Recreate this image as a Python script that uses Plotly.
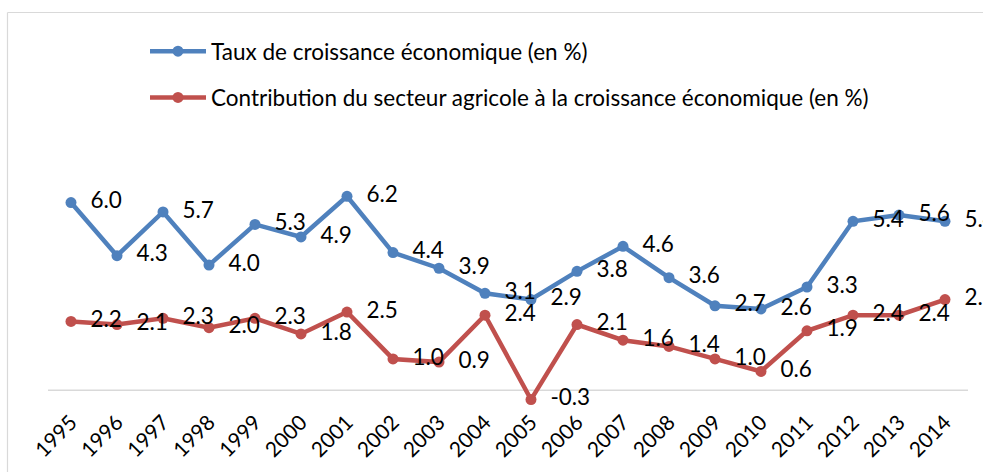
import plotly.graph_objects as go

years = [str(y) for y in range(1995, 2015)]
croissance = [6.0, 4.3, 5.7, 4.0, 5.3, 4.9, 6.2, 4.4, 3.9, 3.1, 2.9, 3.8, 4.6, 3.6, 2.7, 2.6, 3.3, 5.4, 5.6, 5.4]
agricole = [2.2, 2.1, 2.3, 2.0, 2.3, 1.8, 2.5, 1.0, 0.9, 2.4, -0.3, 2.1, 1.6, 1.4, 1.0, 0.6, 1.9, 2.4, 2.4, 2.9]
names = ["Taux de croissance économique (en %)",
         "Contribution du secteur agricole à la croissance économique (en %)"]
colors = ["#4F81BD", "#C0504D"]

FONT = "Lato, Carlito, Calibri, sans-serif"
L, T, W, H = 48, 140, 920, 269

fig = go.Figure()
for i, (vals, name, col) in enumerate(zip([croissance, agricole], names, colors)):
    fig.add_trace(go.Scatter(
        x=years, y=vals, name=name, mode="lines+markers+text",
        line=dict(color=col, width=4.5),
        marker=dict(color=col, size=11),
        text=["\u00a0\u00a0" + f"{v:.1f}" for v in vals],
        textposition="middle right",
        textfont=dict(family=FONT, size=22.5, color="#000000"),
        cliponaxis=False,
        legendgroup=f"g{i}",
    ))

# horizontal category axis line at y=0
fig.add_shape(type="line", xref="x", yref="y", x0=-0.5, x1=19.5, y0=0, y1=0,
              line=dict(color="#D9D9D9", width=1.5), layer="below")
# chart border (top and left edges)
bx = (7.5 - L) / W
by = 1 + (T - 12.5) / H
fig.add_shape(type="line", xref="paper", yref="paper", x0=bx, x1=1.2, y0=by, y1=by,
              line=dict(color="#D9D9D9", width=1.2), layer="below")
fig.add_shape(type="line", xref="paper", yref="paper", x0=bx, x1=bx, y0=by, y1=-0.5,
              line=dict(color="#D9D9D9", width=1.2), layer="below")

fig.update_layout(
    width=983, height=472,
    margin=dict(l=L, r=983 - L - W, t=T, b=472 - T - H, autoexpand=False),
    paper_bgcolor="white", plot_bgcolor="white",
    font=dict(family=FONT, size=22, color="#000000"),
    showlegend=True,
    legend=dict(x=(145 - L) / W, y=1 + (T - 30) / H, xanchor="left", yanchor="top",
                traceorder="grouped", tracegroupgap=14, itemwidth=56,
                font=dict(family=FONT, size=22.5, color="#000000"),
                bgcolor="rgba(0,0,0,0)"),
    xaxis=dict(type="category", range=[-0.5, 19.5], showline=False, showgrid=False,
               zeroline=False, ticks="", tickangle=-45, automargin=False,
               ticklabelstandoff=-4,
               tickfont=dict(family=FONT, size=21, color="#000000")),
    yaxis=dict(range=[-0.6, 8.0], showline=False, showgrid=False, zeroline=False,
               showticklabels=False, ticks="", automargin=False),
)

fig.write_html("out.html", config={"displayModeBar": False},
               post_script="document.body.style.margin='0';document.body.style.overflow='hidden';")
